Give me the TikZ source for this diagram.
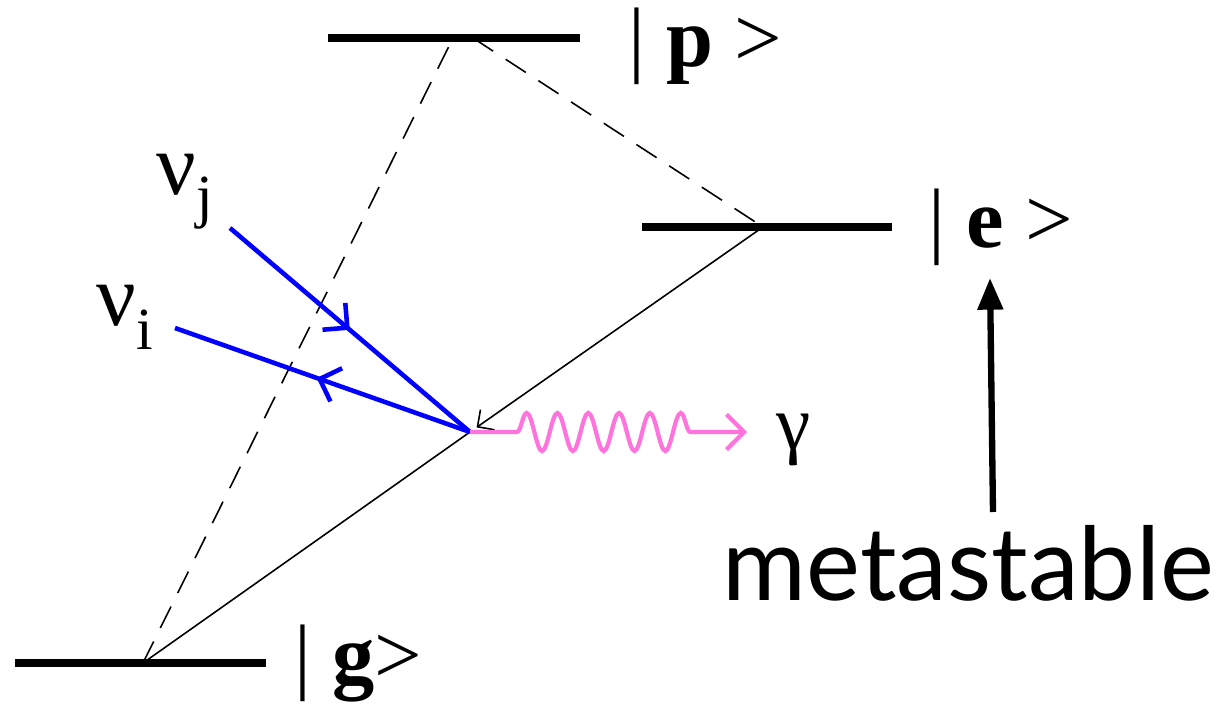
\documentclass[tikz,border=0pt]{standalone}
\usepackage{fontspec}
\setmainfont{Liberation Serif}
\newfontfamily\metafont{Lato}
\usepackage{xcolor}
\usetikzlibrary{arrows.meta,decorations.pathmorphing,decorations.markings}

\definecolor{photonpink}{RGB}{255,115,220}

\begin{document}
\begin{tikzpicture}[
    x=0.01cm, y=-0.01cm,
    level/.style={line width=2pt},
    trans/.style={line width=0.45pt},
    transdash/.style={line width=0.45pt, dash pattern=on 2.4mm off 1.5mm},
    nuline/.style={blue, line width=1.3pt, postaction={decorate},
        decoration={markings, mark=at position #1 with {\arrow{Straight Barb[length=5pt,width=10pt]}}}},
    photon/.style={photonpink, line width=1.2pt, -{Straight Barb[length=5pt,width=10pt]}, decorate,
        decoration={snake, pre length=4.7mm, post length=4.5mm, segment length=3.08mm, amplitude=1.9mm}},
    ket/.style={font=\fontsize{24}{28}\selectfont, anchor=base west, inner sep=0pt},
    nulabel/.style={font=\fontsize{25}{30}\selectfont, anchor=base west, inner sep=0pt}
]
\useasboundingbox (0,0) rectangle (1220,712);

% energy levels
\coordinate (pL) at (328,38);  \coordinate (pR) at (580,38);
\coordinate (eL) at (642,227); \coordinate (eR) at (892,227);
\coordinate (gL) at (15,663);  \coordinate (gR) at (266,663);
\draw[level] (pL) -- (pR);
\draw[level] (eL) -- (eR);
\draw[level] (gL) -- (gR);

\node[ket] (pket) at (628,67) {| \textbf{p} >};
\node[ket] (eket) at (928,248) {| \textbf{e} >};
\node[ket] (gket) at (294,683) {| \textbf{g}>};

% transitions
\coordinate (g) at (143,663);
\coordinate (pa) at (453,38);
\coordinate (pb) at (473,38);
\coordinate (e) at (763,227);
\coordinate (v) at (470,432);
\draw[transdash] (g) -- (pa);
\draw[transdash] (pb) -- (e);
\draw[trans] (v) -- (g);

% neutrinos
\coordinate (nujend) at (230,228);
\coordinate (nuiend) at (175,328);
\node[nulabel] (nuj) at (156,195) {ν\raisebox{-6pt}{\fontsize{17}{20}\selectfont j}};
\node[nulabel] (nui) at (96,325) {ν\raisebox{-7pt}{\fontsize{17}{20}\selectfont i}};
\draw[nuline=0.5] (nujend) -- (v);
\draw[nuline=0.52] (v) -- (nuiend);

% decay arrow on top of the vertex
\draw[trans, shorten >=0.8mm, -{Straight Barb[length=3.5pt,width=7pt]}] (e) -- (v);

% photon
\coordinate (gammatip) at (747,432);
\draw[photon] (v) -- (gammatip);
\node[font=\fontsize{22}{26}\selectfont, inner sep=0pt] (gamma) at (794,440) {γ};

% metastable level
\node[font=\metafont\fontsize{29}{34}\selectfont, anchor=base west, inner sep=0pt] (meta) at (722,600) {metastable};
\coordinate (metafoot) at (993,512);
\coordinate (metatip) at (990,278);
\draw[line width=1.8pt, -{Triangle[length=9pt,width=7pt]}] (metafoot) -- (metatip);

\end{tikzpicture}
\end{document}
